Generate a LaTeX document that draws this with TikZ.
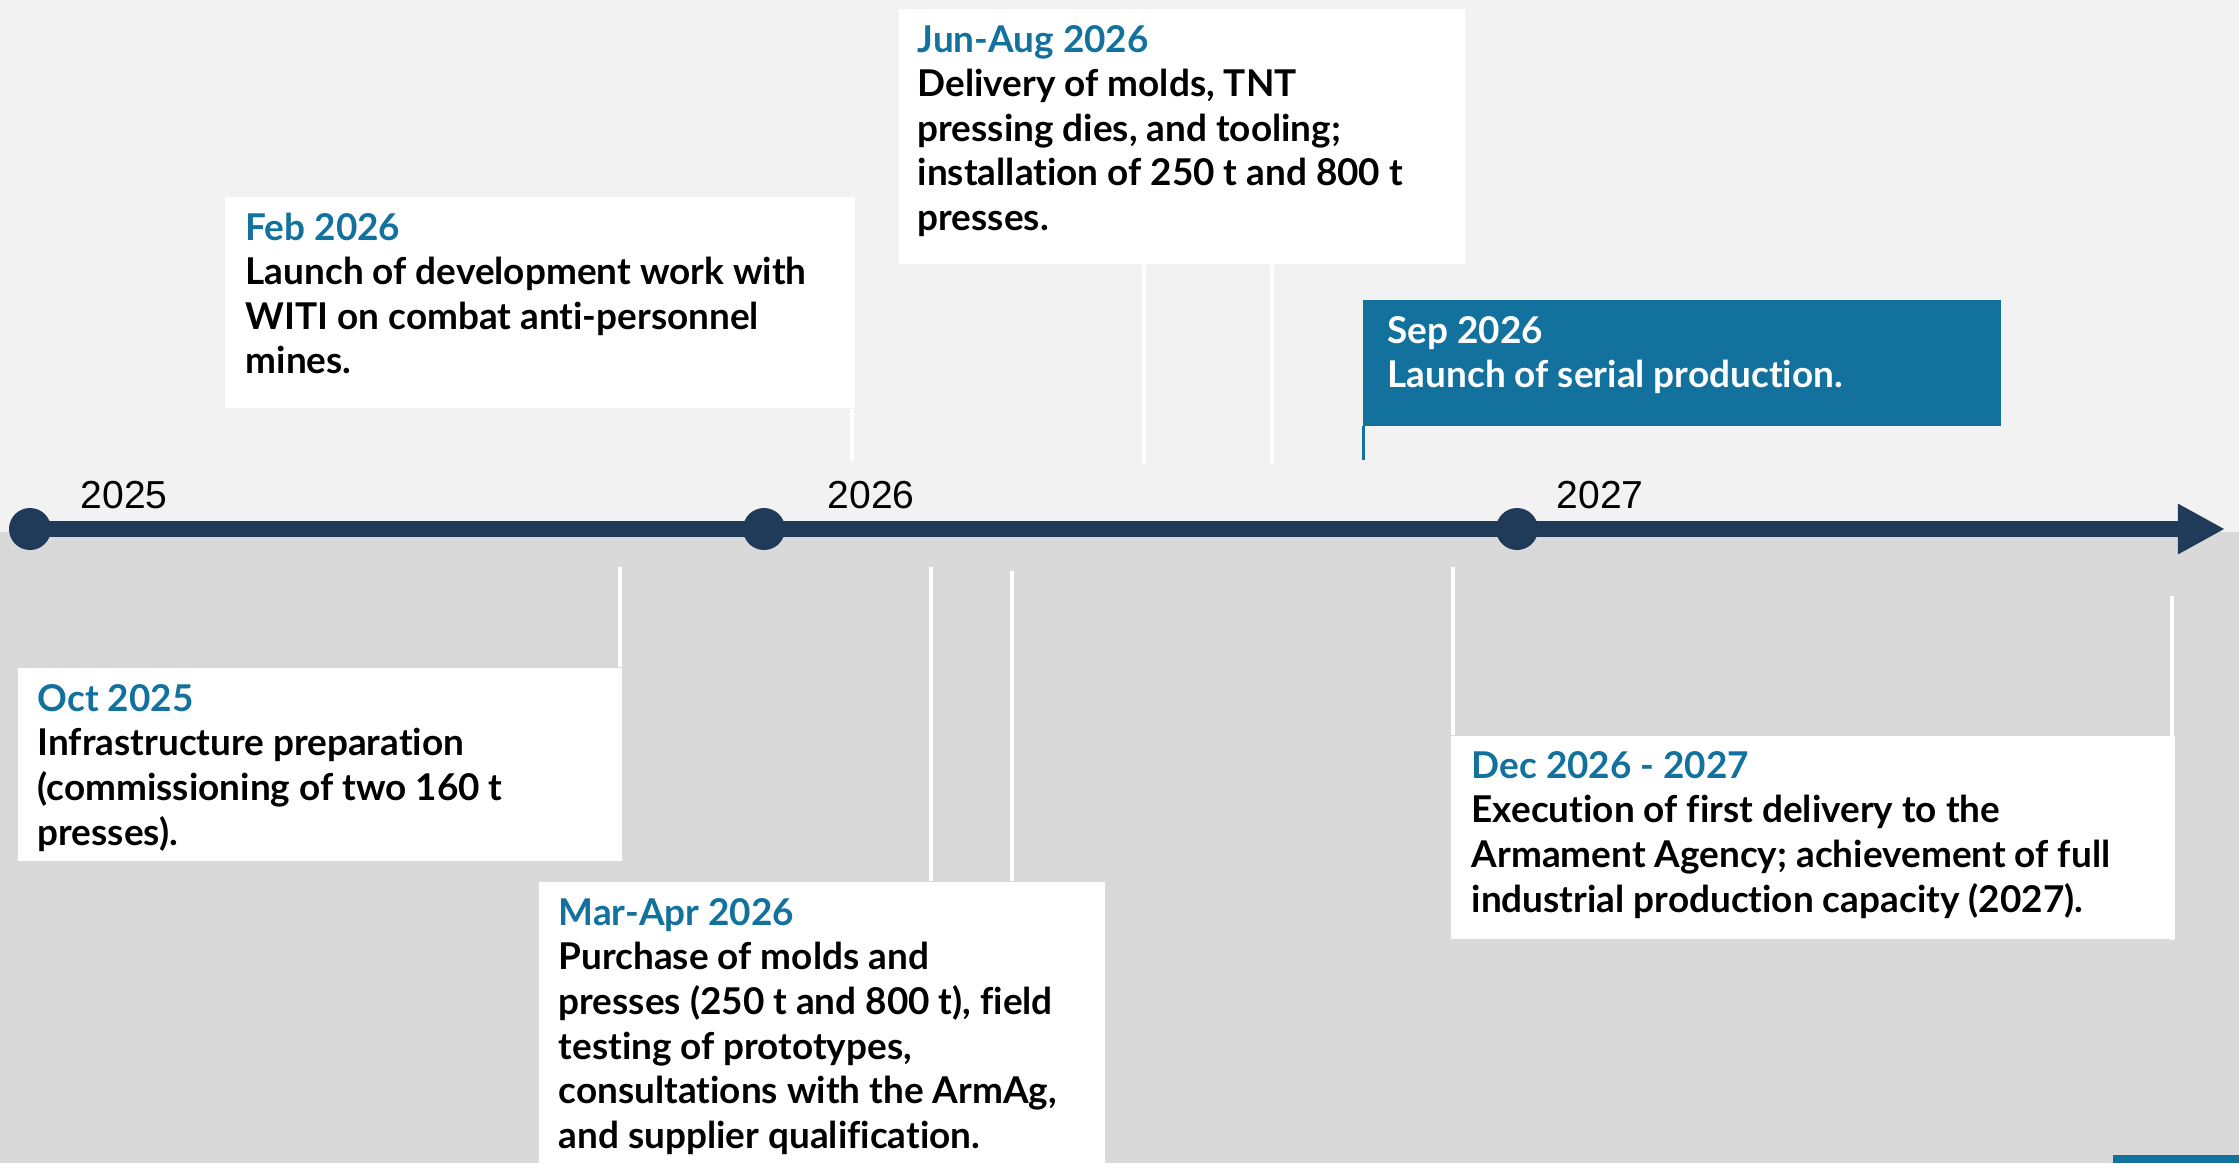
\documentclass[tikz,border=0pt]{standalone}
\usepackage{fontspec}
\setmainfont{Lato}[Ligatures=NoCommon]
\newfontfamily\yearfont{Liberation Sans}
\usetikzlibrary{calc,arrows.meta}

\definecolor{bgtop}{HTML}{F2F2F2}
\definecolor{bgbottom}{HTML}{D9D9D9}
\definecolor{axis}{HTML}{203A5A}
\definecolor{accent}{HTML}{12719D}

\newcommand{\when}[1]{\leavevmode{\color{accent}#1}}

\tikzset{
  card/.style={fill=white, inner sep=0pt, anchor=north west},
  hot card/.style={card, fill=accent},
  card text/.style={anchor=base west, inner sep=0pt,
    font=\bfseries\fontsize{10.5pt}{12.7pt}\selectfont},
  tick/.style={white, line width=0.04cm},
  hot tick/.style={accent, line width=0.03cm},
  dot/.style={circle, fill=axis, inner sep=0pt, minimum size=0.42cm},
  year/.style={anchor=base west, inner sep=0pt,
    font=\yearfont\fontsize{11.1pt}{13pt}\selectfont}
}

\begin{document}
\begin{tikzpicture}[x=0.01cm,y=-0.01cm]
  \useasboundingbox (0,0) rectangle (2239,1163);

  %% two-tone background, split just under the axis
  \fill[bgtop]    (0,0)   rectangle (2239,532);
  \fill[bgbottom] (0,532) rectangle (2239,1163);
  \fill[accent]   (2113,1155) rectangle (2239,1163);

  %% Axis with the year dots
  \foreach \i/\x/\lx/\yr in {0/30/80/2025,1/764/827/2026,2/1517/1556/2027}
  {
    \node[dot] (d\i) at (\x,529) {};
    \node[year] (y\i) at (\lx,508) {\yr};
  }
  \coordinate (tip) at (2225,529);
  \draw[axis, line width=0.16cm, -{Triangle[length=0.47cm,width=0.47cm]}] (d0.center) -- (tip);

  %% Boxes above the axis
  \node[card, minimum width=6.30cm, minimum height=2.11cm] (feb) at (224,196) {};
  \node[card text] (feb-txt) at ($(feb.north west)+(21,44)$)
  {\parbox[t]{6cm}{\when{Feb 2026}\\Launch of development work with\\WITI on combat anti-personnel\\mines.}};

  \node[card, minimum width=5.66cm, minimum height=2.55cm] (jun) at (898,8) {};
  \node[card text] (jun-txt) at ($(jun.north west)+(19,44)$)
  {\parbox[t]{5.4cm}{\when{Jun-Aug 2026}\\Delivery of molds, TNT\\pressing dies, and tooling;\\installation of 250 t and 800 t\\presses.}};

  \node[hot card, minimum width=6.38cm, minimum height=1.26cm] (sep) at (1362,299) {};
  \node[card text, white] (sep-txt) at ($(sep.north west)+(25,44)$)
  {\parbox[t]{6cm}{Sep 2026\\Launch of serial production.}};

  %% Boxes below the axis
  \node[card, minimum width=6.04cm, minimum height=1.93cm] (oct) at (17,667) {};
  \node[card text] (oct-txt) at ($(oct.north west)+(20,44)$)
  {\parbox[t]{5.8cm}{\when{Oct 2025}\\Infrastructure preparation\\(commissioning of two 160 t\\presses).}};

  \node[card, minimum width=5.66cm, minimum height=2.82cm] (mar) at (538,881) {};
  \node[card text] (mar-txt) at ($(mar.north west)+(20,44)$)
  {\parbox[t]{5.4cm}{\when{Mar-Apr 2026}\\Purchase of molds and\\presses (250 t and 800 t), field\\testing of prototypes,\\consultations with the ArmAg,\\and supplier qualification.}};

  \node[card, minimum width=7.24cm, minimum height=2.03cm] (dec) at (1450,735) {};
  \node[card text] (dec-txt) at ($(dec.north west)+(21,43)$)
  {\parbox[t]{7cm}{\when{Dec 2026 - 2027}\\Execution of first delivery to the\\Armament Agency; achievement of full\\industrial production capacity (2027).}};

  %% Leader lines between boxes and axis
  \coordinate (feb-foot) at (852,461);
  \coordinate (jun-a)    at (1144,464);
  \coordinate (jun-b)    at (1272,464);
  \coordinate (sep-foot) at (1363,460);
  \coordinate (oct-head) at (620,567);
  \coordinate (mar-a)    at (931,567);
  \coordinate (mar-b)    at (1012,571);
  \coordinate (dec-a)    at (1453,567);
  \coordinate (dec-b)    at (2172,596);

  \foreach \c/\n in {feb-foot/feb,jun-a/jun,jun-b/jun}
    \draw[tick] (\c |- \n.south) -- (\c);
  \draw[hot tick] (sep-foot |- sep.south) -- (sep-foot);
  \foreach \c/\n in {oct-head/oct,mar-a/mar,mar-b/mar,dec-a/dec}
    \draw[tick] (\c) -- (\c |- \n.north);
  \draw[tick] (dec-b) -- (dec-b |- dec.south);
\end{tikzpicture}
\end{document}
